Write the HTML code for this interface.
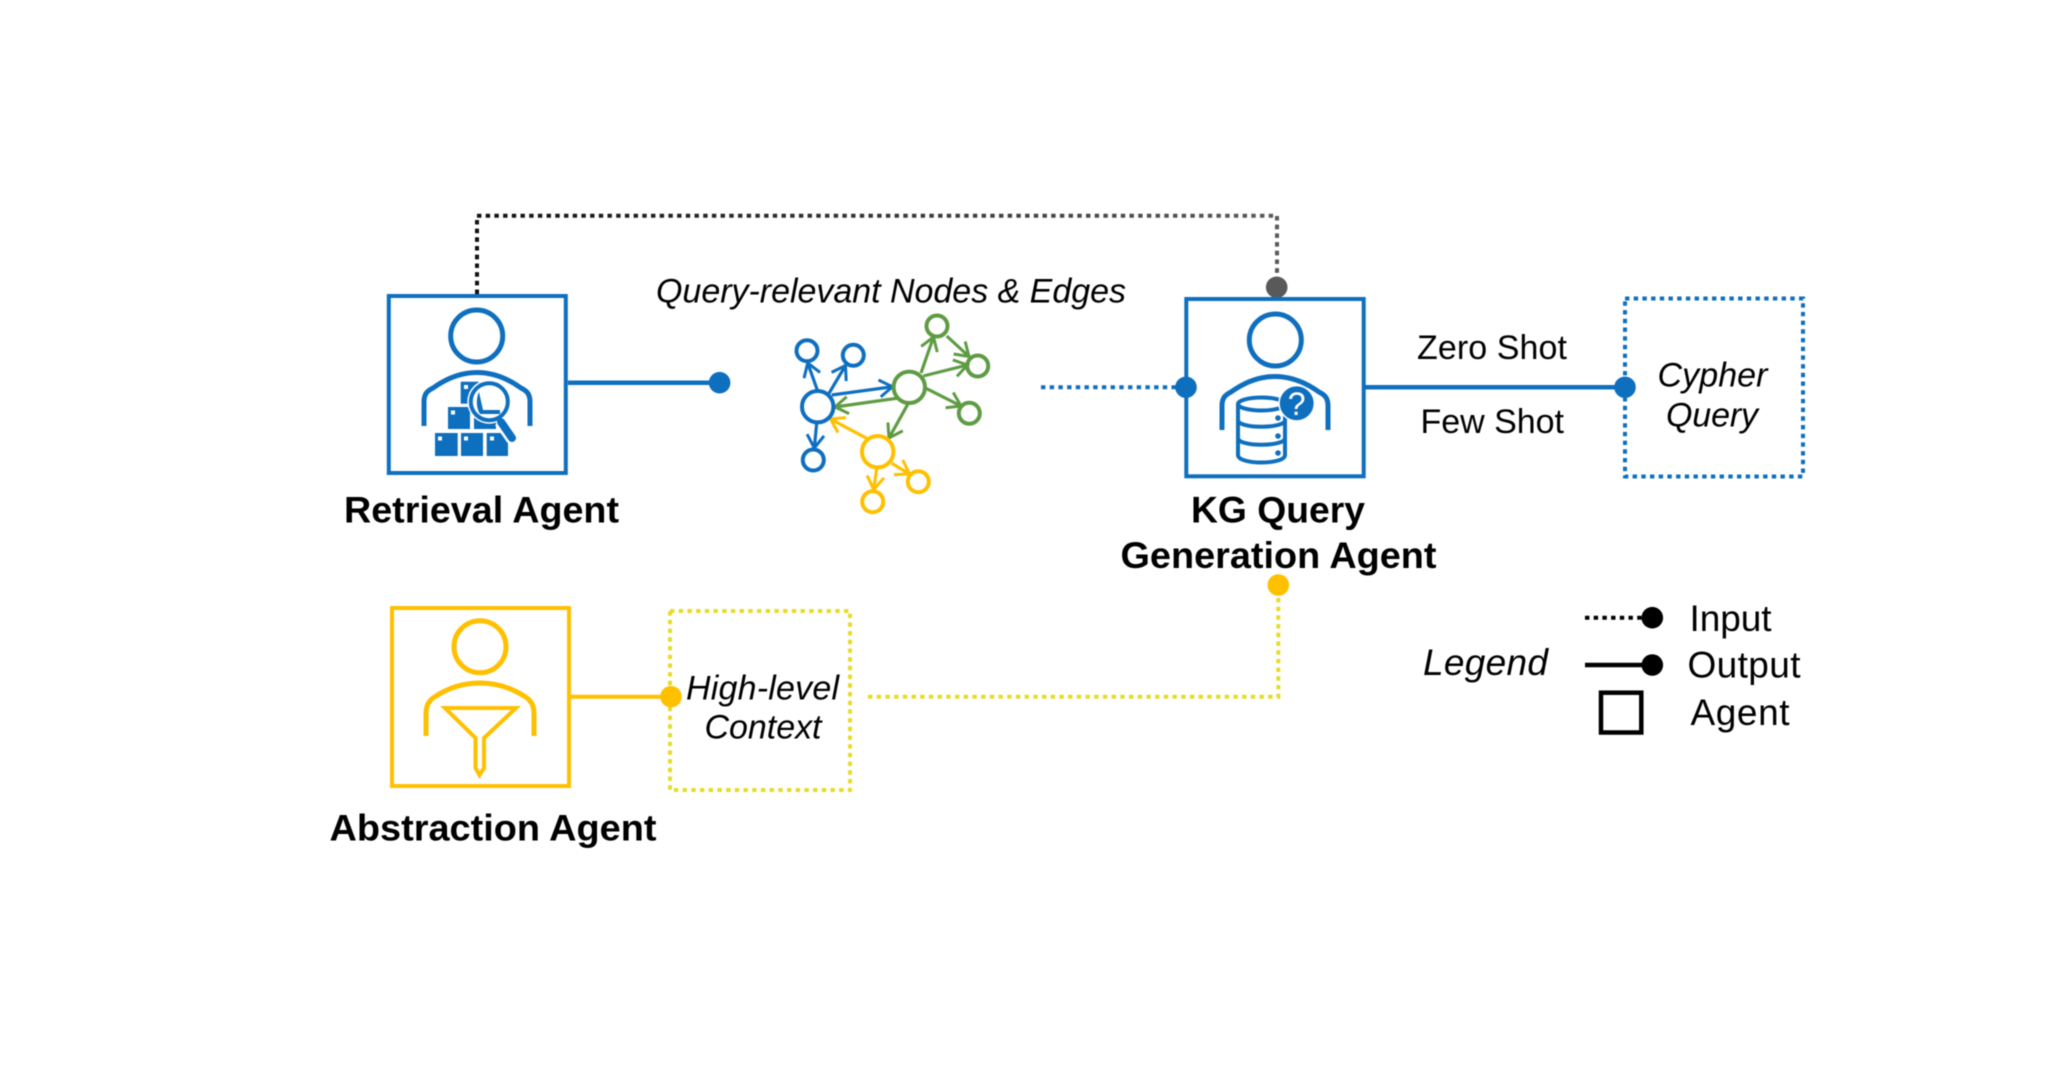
<!DOCTYPE html>
<html>
<head>
<meta charset="utf-8">
<style>
html,body{margin:0;padding:0;background:#fff;width:2048px;height:1092px;overflow:hidden}
svg{display:block;filter:blur(0.45px)}
text{font-family:"Liberation Sans",Arial,sans-serif;fill:#000;font-size:34px}
.b{font-weight:bold;font-size:37px}
.i{font-style:italic}
</style>
</head>
<body>
<svg width="2048" height="1092" viewBox="0 0 2048 1092" xmlns="http://www.w3.org/2000/svg">
<defs>
<linearGradient id="gr" gradientUnits="userSpaceOnUse" x1="477" y1="0" x2="1277" y2="0">
<stop offset="0" stop-color="#111"/><stop offset="1" stop-color="#5a5a5a"/>
</linearGradient>
<marker id="ab" markerUnits="userSpaceOnUse" markerWidth="22" markerHeight="22" refX="15" refY="10" orient="auto"><path d="M2 1.5 L15 10 L2 18.5" fill="none" stroke="#0f6fbf" stroke-width="3"/></marker>
<marker id="ag" markerUnits="userSpaceOnUse" markerWidth="22" markerHeight="22" refX="15" refY="10" orient="auto"><path d="M2 1.5 L15 10 L2 18.5" fill="none" stroke="#5f9b44" stroke-width="3"/></marker>
<marker id="ay" markerUnits="userSpaceOnUse" markerWidth="22" markerHeight="22" refX="15" refY="10" orient="auto"><path d="M2 1.5 L15 10 L2 18.5" fill="none" stroke="#ffc000" stroke-width="3"/></marker>
</defs>
<rect width="2048" height="1092" fill="#fff"/>

<!-- top dotted connector -->
<path d="M477 294 V215.7 H1277 V280" fill="none" stroke="url(#gr)" stroke-width="4" stroke-dasharray="4.4 4.3"/>
<path d="M477 294 V216" fill="none" stroke="#111" stroke-width="4" stroke-dasharray="4.4 4.3"/>
<path d="M1277 216 V280" fill="none" stroke="#5a5a5a" stroke-width="4" stroke-dasharray="4.4 4.3"/>
<circle cx="1276.7" cy="287.3" r="10.8" fill="#595959"/>

<!-- Retrieval agent -->
<g fill="none" stroke="#0f6fbf">
<rect x="388.8" y="296" width="177" height="177" stroke-width="4"/>
<circle cx="476.7" cy="336" r="26" stroke-width="5"/>
<path d="M424 426 V402 C424 394 427 391 433 388 C447 378 462 372.5 477 372.5 C492 372.5 507 378 521 388 C527 391 530 394 530 402 V426" stroke-width="5"/>
</g>
<g fill="#0f6fbf">
<rect x="460.7" y="381.7" width="18" height="22"/>
<rect x="448" y="407" width="22" height="22"/>
<rect x="474" y="407" width="22" height="22"/>
<rect x="435" y="433" width="22.7" height="23"/>
<rect x="461" y="433" width="22" height="23"/>
<rect x="486.7" y="433" width="21.3" height="23"/>
</g>
<g fill="#fff">
<rect x="464" y="385" width="4" height="4"/>
<rect x="451" y="410.5" width="4" height="4"/>
<rect x="438" y="436.5" width="4" height="4"/>
<rect x="464" y="436.5" width="4" height="4"/>
<rect x="490" y="436.5" width="4" height="4"/>
</g>
<circle cx="489.3" cy="401.7" r="20.5" fill="#fff" stroke="#fff" stroke-width="3"/>
<path d="M479 392 L483 410 H500 V414 H480 C476 408 476 398 479 392 Z" fill="#0f6fbf"/>
<path d="M490 390 L483 409 H500 Z" fill="#fff" opacity="0"/>
<circle cx="489.3" cy="401.7" r="18.5" fill="none" stroke="#0f6fbf" stroke-width="4"/>
<path d="M500 421.7 L512.5 439.5" stroke="#fff" stroke-width="12" fill="none"/>
<path d="M501 422 L512 438" stroke="#0f6fbf" stroke-width="8" stroke-linecap="round" fill="none"/>
<path d="M568 382.7 H719" stroke="#0f6fbf" stroke-width="4.5"/>
<circle cx="719.6" cy="382.7" r="10.8" fill="#0f6fbf"/>
<text class="b" x="344" y="522.7" textLength="275" lengthAdjust="spacingAndGlyphs">Retrieval Agent</text>

<!-- graph title -->
<text class="i" x="656" y="302.5" textLength="470" lengthAdjust="spacing">Query-relevant Nodes &amp; Edges</text>

<!-- graph edges -->
<g fill="none" stroke-width="3.2">
<g stroke="#0f6fbf">
<path d="M817.3 390 L807.7 363" marker-end="url(#ab)"/>
<path d="M829 393.3 L845.5 365.5" marker-end="url(#ab)"/>
<path d="M816.7 423.3 L814.3 448" marker-end="url(#ab)"/>
<path d="M831.7 395 L892.5 386.7" marker-end="url(#ab)"/>
</g>
<g stroke="#5f9b44">
<path d="M896.7 398.3 L835 407" marker-end="url(#ag)"/>
<path d="M921 373 L933.5 337" marker-end="url(#ag)"/>
<path d="M946.7 336 L969 356.5" marker-end="url(#ag)"/>
<path d="M923.3 376 L967.5 365" marker-end="url(#ag)"/>
<path d="M926 388.3 L961 406" marker-end="url(#ag)"/>
<path d="M908.3 403.3 L889 438" marker-end="url(#ag)"/>
</g>
<g stroke="#ffc000">
<path d="M866.7 438.3 L830.5 419" marker-end="url(#ay)"/>
<path d="M891.7 463.3 L909.5 474" marker-end="url(#ay)"/>
<path d="M876.7 468.3 L873.7 489.5" marker-end="url(#ay)"/>
</g>
</g>
<g fill="none" stroke-width="4">
<g stroke="#0f6fbf">
<circle cx="817.7" cy="406.7" r="15.7"/>
<circle cx="807" cy="350.7" r="10.5"/>
<circle cx="853.3" cy="355.3" r="10.5"/>
<circle cx="813.3" cy="460" r="10.5"/>
</g>
<g stroke="#5f9b44">
<circle cx="909.3" cy="387.3" r="15.7"/>
<circle cx="937" cy="326" r="10.5"/>
<circle cx="977.7" cy="366" r="10.5"/>
<circle cx="969.3" cy="413.3" r="10.5"/>
</g>
<g stroke="#ffc000">
<circle cx="877.7" cy="451.7" r="15.7"/>
<circle cx="918.3" cy="481.7" r="10.5"/>
<circle cx="872.7" cy="501.7" r="10.5"/>
</g>
</g>

<!-- KG agent -->
<path d="M1041 387.3 H1186" stroke="#0f6fbf" stroke-width="4" stroke-dasharray="4.4 4.3" fill="none"/>
<g fill="none" stroke="#0f6fbf">
<rect x="1186.3" y="299" width="177.4" height="177.3" stroke-width="4"/>
<circle cx="1275.3" cy="340" r="26" stroke-width="5"/>
<path d="M1222 430 V406 C1222 398 1225 395 1231 392 C1245 382 1260 376.5 1275 376.5 C1290 376.5 1305 382 1319 392 C1325 395 1328 398 1328 406 V430" stroke-width="5"/>
</g>
<path d="M1238 405 V455 C1238 466 1285 466 1285 455 V405 Z" fill="#fff" stroke="none"/>
<g fill="none" stroke="#0f6fbf" stroke-width="4">
<ellipse cx="1261.5" cy="404" rx="23.5" ry="6.5"/>
<path d="M1238 404 V455 C1238 465 1285 465 1285 455 V404"/>
<path d="M1238 420 C1238 429 1285 429 1285 420"/>
<path d="M1238 438 C1238 447 1285 447 1285 438"/>
</g>
<g fill="#0f6fbf">
<circle cx="1278" cy="418" r="2.8"/>
<circle cx="1278" cy="436" r="2.8"/>
<circle cx="1278" cy="453" r="2.8"/>
</g>
<circle cx="1296.7" cy="403.3" r="17.7" fill="#0f6fbf" stroke="#fff" stroke-width="1.5"/>
<text x="1296.7" y="415" text-anchor="middle" style="font-size:32px;fill:#fff">?</text>
<circle cx="1186" cy="387.3" r="10.8" fill="#0f6fbf"/>
<text class="b" x="1191" y="522.7" textLength="174" lengthAdjust="spacingAndGlyphs">KG Query</text>
<text class="b" x="1120.5" y="568" textLength="316" lengthAdjust="spacingAndGlyphs">Generation Agent</text>

<!-- outputs -->
<path d="M1365 387.3 H1625" stroke="#0f6fbf" stroke-width="4.5"/>
<text x="1417" y="359" textLength="150" lengthAdjust="spacing">Zero Shot</text>
<text x="1420.5" y="433" textLength="143.5" lengthAdjust="spacing">Few Shot</text>
<rect x="1625" y="298.5" width="178" height="178" fill="none" stroke="#0f6fbf" stroke-width="4" stroke-dasharray="4.4 4.3"/>
<circle cx="1625" cy="387.3" r="10.8" fill="#0f6fbf"/>
<text class="i" x="1657.5" y="386.5" textLength="110" lengthAdjust="spacing">Cypher</text>
<text class="i" x="1666" y="426.5" textLength="92" lengthAdjust="spacing">Query</text>

<!-- Abstraction agent -->
<g fill="none" stroke="#ffc000">
<rect x="392" y="608" width="177" height="178" stroke-width="4"/>
<circle cx="480" cy="646.7" r="26" stroke-width="5"/>
<path d="M426 736 V714 C426 705 429 700 436 696 C450 687 465 683 480 683 C495 683 510 687 524 696 C531 700 534 705 534 714 V736" stroke-width="5"/>
<path d="M445 708 H516 L484 738 V768 L479.5 775 L475.5 768 V738 Z" stroke-width="4"/>
<path d="M571 696.7 H671" stroke-width="4"/>
</g>
<rect x="670" y="611" width="180" height="179" fill="none" stroke="#e6dc28" stroke-width="4" stroke-dasharray="4.4 4.3"/>
<circle cx="671" cy="696.7" r="10.8" fill="#ffc000"/>
<text class="i" x="686" y="699.3" textLength="153" lengthAdjust="spacing">High-level</text>
<text class="i" x="704.5" y="738.6" textLength="117" lengthAdjust="spacing">Context</text>
<text class="b" x="329.5" y="840.5" textLength="327" lengthAdjust="spacingAndGlyphs">Abstraction Agent</text>
<path d="M868 696.7 H1278.3 V590" fill="none" stroke="#e6dc28" stroke-width="4" stroke-dasharray="4.4 4.3"/>
<circle cx="1278.3" cy="585" r="10.8" fill="#ffc000"/>

<!-- Legend -->
<text class="i" x="1423" y="675" style="font-size:37px" textLength="125" lengthAdjust="spacing">Legend</text>
<path d="M1585 617.7 H1645" stroke="#000" stroke-width="4" stroke-dasharray="4.4 4.3" fill="none"/>
<circle cx="1652.3" cy="617.7" r="10.8" fill="#000"/>
<path d="M1585 665 H1650" stroke="#000" stroke-width="4.5"/>
<circle cx="1652.3" cy="665" r="10.8" fill="#000"/>
<rect x="1601" y="692.7" width="40.3" height="39.8" fill="none" stroke="#000" stroke-width="4.5"/>
<text x="1689.5" y="630.9" style="font-size:37px" textLength="82" lengthAdjust="spacing">Input</text>
<text x="1687.5" y="677.5" style="font-size:37px" textLength="113" lengthAdjust="spacing">Output</text>
<text x="1690.5" y="724.8" style="font-size:37px" textLength="99" lengthAdjust="spacing">Agent</text>
</svg>
</body>
</html>
